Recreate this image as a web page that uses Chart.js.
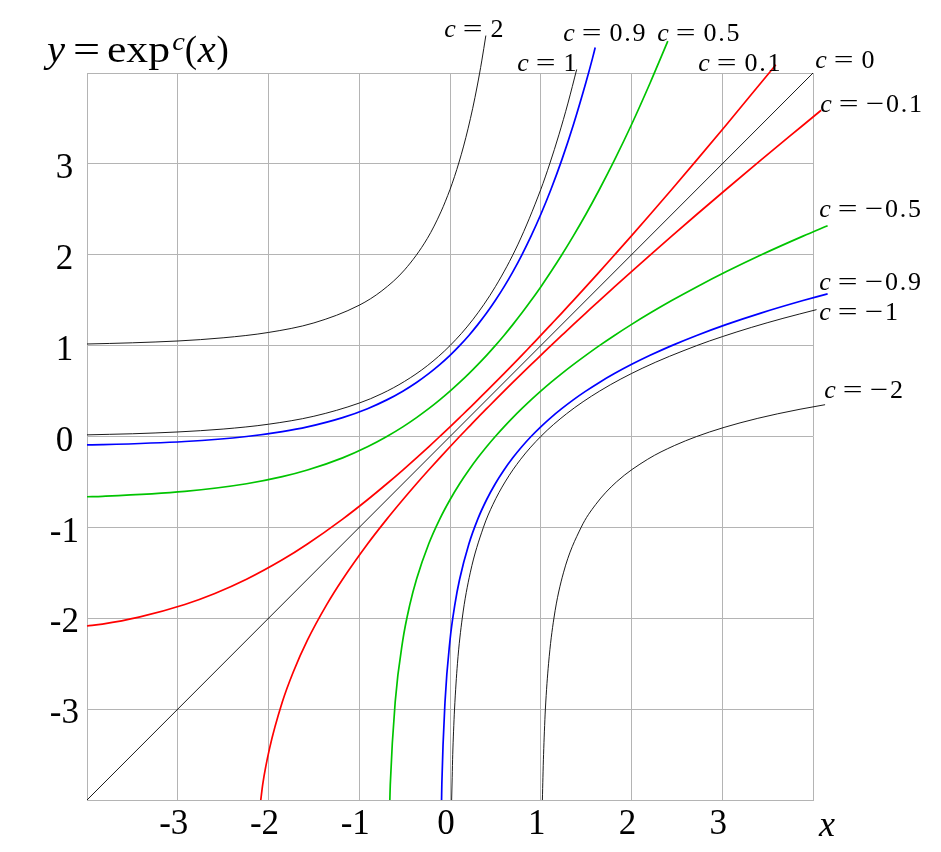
<!DOCTYPE html>
<html>
<head>
<meta charset="utf-8">
<script src="https://cdn.jsdelivr.net/npm/chart.js@4.4.1/dist/chart.umd.min.js"></script>
<style>
  html, body { margin: 0; padding: 0; background: #fff; }
  #wrap { width: 941px; height: 852px; position: relative; }
</style>
</head>
<body>
<div id="wrap"><canvas id="cv"></canvas></div>
<script>
// values. exp^-c is the inverse of exp^c, so each
// negative-c curve is drawn from the same points with x and y swapped.
const tickVals = [-3, -2, -1, 0, 1, 2, 3];

const c2X = [-4, -3.75, -3.5, -3.25, -3, -2.5, -2, -1.5, -1, -0.75, -0.5, -0.25, -0.1, 0, 0.05, 0.1, 0.15, 0.2, 0.25, 0.3, 0.35, 0.395];
const c2Y = [1.018, 1.024, 1.031, 1.040, 1.051, 1.086, 1.145, 1.250, 1.445, 1.604, 1.834, 2.179, 2.472, 2.718, 2.861, 3.020, 3.196, 3.392, 3.611, 3.857, 4.133, 4.412];

const c1X = [-4, -3.75, -3.5, -3.25, -3, -2.5, -2, -1.5, -1, -0.75, -0.5, -0.25, 0, 0.25, 0.5, 0.75, 1, 1.1, 1.2, 1.3, 1.396];
const c1Y = [0.018, 0.024, 0.030, 0.039, 0.050, 0.082, 0.135, 0.223, 0.368, 0.472, 0.607, 0.779, 1, 1.284, 1.649, 2.117, 2.718, 3.004, 3.320, 3.669, 4.039];

const c09X = [-4, -3.83, -2.922, -2.242, -1.848, -1.571, -1.183, -0.909, -0.696, -0.520, -0.369, -0.235, -0.113, 0, 0.106, 0.208, 0.306, 0.403, 0.499, 0.595, 0.692, 0.791, 0.893, 1, 1.112, 1.231, 1.358, 1.496, 1.570, 1.600];
const c09Y = [-0.093, -0.090, -0.055, 0, 0.054, 0.106, 0.208, 0.306, 0.403, 0.499, 0.595, 0.692, 0.791, 0.893, 1, 1.112, 1.231, 1.358, 1.496, 1.646, 1.812, 1.997, 2.205, 2.443, 2.718, 3.041, 3.425, 3.890, 4.161, 4.280];

const c05X = [-4, -3.83, -2.922, -2.242, -1.848, -1.571, -1.183, -0.909, -0.696, -0.520, -0.369, -0.235, -0.113, 0, 0.106, 0.208, 0.306, 0.403, 0.499, 0.595, 0.692, 0.791, 0.893, 1, 1.112, 1.231, 1.358, 1.496, 1.646, 1.812, 1.997, 2.205, 2.320, 2.400];
const c05Y = [-0.663, -0.658, -0.604, -0.520, -0.442, -0.369, -0.235, -0.113, 0, 0.106, 0.208, 0.306, 0.403, 0.499, 0.595, 0.692, 0.791, 0.893, 1, 1.112, 1.231, 1.358, 1.496, 1.646, 1.812, 1.997, 2.205, 2.443, 2.718, 3.041, 3.425, 3.890, 4.161, 4.350];

const c01X = [-4, -3.83, -3.427, -2.922, -2.591, -2.242, -1.848, -1.571, -1.183, -0.909, -0.696, -0.520, -0.369, -0.235, -0.113, 0, 0.106, 0.208, 0.306, 0.403, 0.499, 0.595, 0.692, 0.791, 0.893, 1, 1.112, 1.231, 1.358, 1.496, 1.646, 1.812, 1.997, 2.205, 2.443, 2.718, 3.041, 3.425, 3.590];
const c01Y = [-2.085, -2.064, -1.987, -1.848, -1.727, -1.571, -1.357, -1.183, -0.909, -0.696, -0.520, -0.369, -0.235, -0.113, 0, 0.106, 0.208, 0.306, 0.403, 0.499, 0.595, 0.692, 0.791, 0.893, 1, 1.112, 1.231, 1.358, 1.496, 1.646, 1.812, 1.997, 2.205, 2.443, 2.718, 3.041, 3.425, 3.890, 4.090];

const c0X = [-4, 4];
const c0Y = [-4, 4];

const BLACK = '#000000', BLUE = '#0000ff', GREEN = '#00c400', RED = '#ff0000';

const curves = [
    { c: '2',    xs: c2X,  ys: c2Y,  col: BLACK, w: 0.9 },
    { c: '1',    xs: c1X,  ys: c1Y,  col: BLACK, w: 0.9 },
    { c: '0.9',  xs: c09X, ys: c09Y, col: BLUE,  w: 1.7 },
    { c: '0.5',  xs: c05X, ys: c05Y, col: GREEN, w: 1.7 },
    { c: '0.1',  xs: c01X, ys: c01Y, col: RED,   w: 1.7 },
    { c: '0',    xs: c0X,  ys: c0Y,  col: BLACK, w: 0.9 },
    { c: '−0.1', xs: c01Y, ys: c01X, col: RED,   w: 1.7 },
    { c: '−0.5', xs: c05Y, ys: c05X, col: GREEN, w: 1.7 },
    { c: '−0.9', xs: c09Y, ys: c09X, col: BLUE,  w: 1.7 },
    { c: '−1',   xs: c1Y,  ys: c1X,  col: BLACK, w: 0.9 },
    { c: '−2',   xs: c2Y,  ys: c2X,  col: BLACK, w: 0.9 }
];

// where each "c=..." label starts (left edge, baseline), in axis units
const labelAt = {
    '2': [-0.066, 4.40], '1': [0.738, 4.026], '0.9': [1.245, 4.356], '0.5': [2.281, 4.356],
    '0.1': [2.733, 4.026], '0': [4.022, 4.059], '−0.1': [4.077, 3.575], '−0.5': [4.066, 2.420],
    '−0.9': [4.066, 1.617], '−1': [4.066, 1.287], '−2': [4.121, 0.429]
};

const SERIF = '"Liberation Serif", "Times New Roman", serif';
const GRID = '#b4b4b4';

// draws a row of tokens [text, italic?, advance(em), size scale, rise(em), x-stretch]
function drawMath(ctx, toks, x, y, size) {
    ctx.textAlign = 'center';
    ctx.textBaseline = 'alphabetic';
    ctx.fillStyle = '#000';
    toks.forEach(t => {
        const [txt, it, adv, sc = 1, rise = 0, hs = 1] = t;
        if (txt) {
            ctx.save();
            ctx.font = (it ? 'italic ' : '') + (size * sc) + 'px ' + SERIF;
            ctx.translate(x + adv * size / 2, y - rise * size);
            ctx.scale(hs, 1);
            ctx.fillText(txt, 0, 0);
            ctx.restore();
        }
        x += adv * size;
    });
}

function labelToks(c) {
    let toks = [['c', true, 0.46], ['', false, 0.24], ['=', false, 0.80, 1, 0, 1.35], ['', false, 0.25]];
    for (const ch of c) {
        if (ch === '−') toks.push(['−', false, 0.75, 1, 0, 1.25]);
        else if (ch === '.') toks.push(['.', false, 0.30]);
        else toks.push([ch, false, 0.58]);
    }
    return toks;
}

const textPlugin = {
    id: 'texts',
    afterDatasetsDraw(chart) {
        const ctx = chart.ctx;
        const sx = chart.scales.x, sy = chart.scales.y;
        ctx.save();
        // title  y = exp^c(x)
        drawMath(ctx, [
            ['y', true, 0.54, 1, 0, 1.1], ['', false, 0.19], ['=', false, 0.73, 1, 0, 1.3], ['', false, 0.135],
            ['exp', false, 1.81, 1, 0, 1.18], ['c', true, 0.35, 0.7, 0.33, 1.1], ['(', false, 0.32],
            ['x', true, 0.54, 1, 0, 1.1], [')', false, 0.32]
        ], 46, 62, 37);
        // x axis name
        ctx.font = 'italic 36px ' + SERIF;
        ctx.textAlign = 'center';
        ctx.fillText('x', sx.getPixelForValue(4) + 14, sx.bottom - 16);
        // curve labels
        curves.forEach(cv => {
            const p = labelAt[cv.c];
            drawMath(ctx, labelToks(cv.c), sx.getPixelForValue(p[0]), sy.getPixelForValue(p[1]), 26);
        });
        ctx.restore();
    }
};

function setup() {
    const datasets = curves.map(cv => ({
        label: 'c=' + cv.c,
        data: cv.xs.map((x, i) => ({ x: x, y: cv.ys[i] })),
        borderColor: cv.col,
        borderWidth: cv.w,
        showLine: true,
        pointRadius: 0,
        cubicInterpolationMode: 'monotone',
        fill: false,
        clip: false
    }));

    const tickCb = v => tickVals.includes(v) ? String(v) : '';
    const axis = (extra) => Object.assign({
        type: 'linear', min: -4, max: 4,
        grid: { color: GRID, lineWidth: 1, drawTicks: false },
        border: { color: GRID, width: 1 }
    }, extra);

    new Chart(document.getElementById('cv').getContext('2d'), {
        type: 'scatter',
        data: { datasets: datasets },
        options: {
            responsive: true, maintainAspectRatio: false, animation: false,
            layout: { padding: { top: 73, right: 128, left: 0, bottom: 0 } },
            plugins: { legend: { display: false }, tooltip: { enabled: false } },
            scales: {
                x: axis({
                    ticks: { stepSize: 1, autoSkip: false, maxRotation: 0, padding: 4, labelOffset: -4,
                             color: '#000', font: { family: SERIF, size: 35 }, callback: tickCb },
                    afterFit: s => { s.height = 52; }
                }),
                y: axis({
                    ticks: { stepSize: 1, autoSkip: false, padding: 8, labelOffset: 5, crossAlign: 'center',
                             color: '#000', font: { family: SERIF, size: 35 }, callback: tickCb },
                    afterFit: s => { s.width = 87; }
                })
            }
        },
        plugins: [textPlugin]
    });
}

document.addEventListener('DOMContentLoaded', setup);
</script>
</body>
</html>
